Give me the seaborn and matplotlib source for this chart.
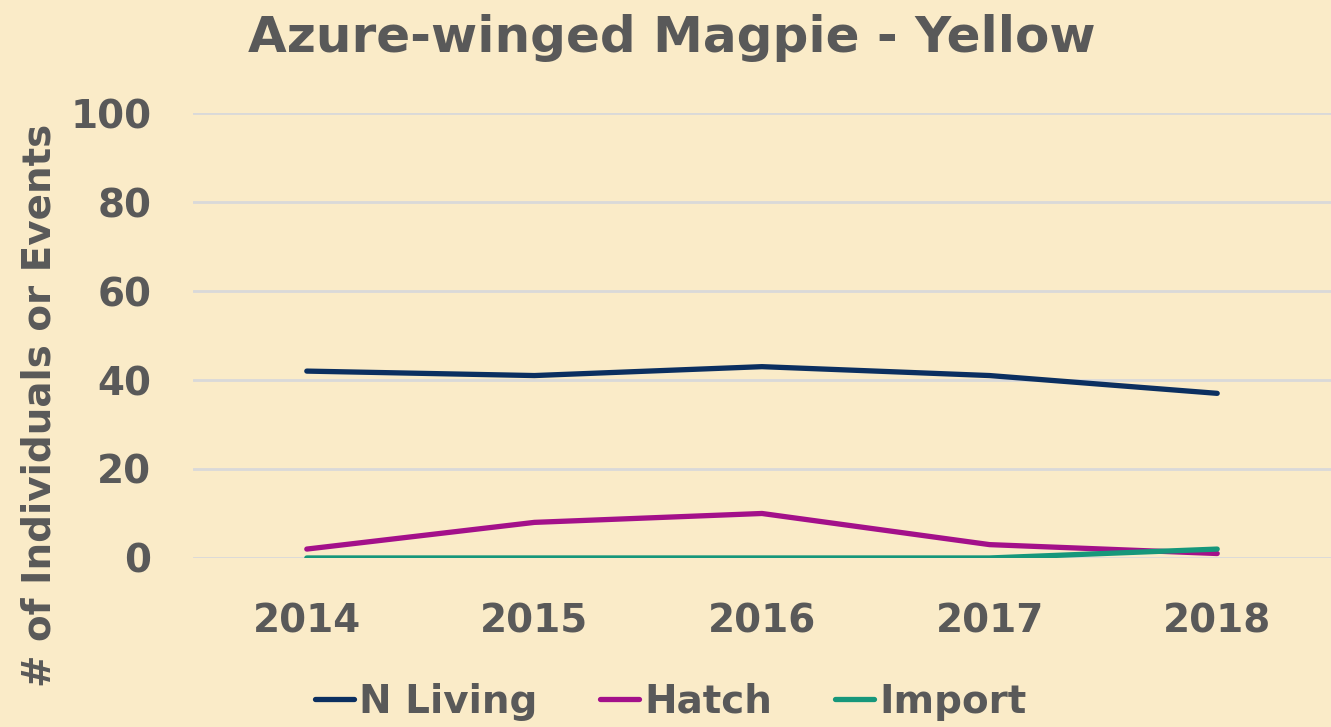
import pandas as pd
import seaborn as sns
import matplotlib.pyplot as plt

years = ['2014', '2015', '2016', '2017', '2018']
n_living = [42, 41, 43, 41, 37]
hatch = [2, 8, 10, 3, 1]
imports = [0, 0, 0, 0, 2]

series_names = ['N Living', 'Hatch', 'Import']
series_colors = ['#0B2F60', '#A3108A', '#16977B']

df = pd.DataFrame({'Year': years * 3,
                   'Value': n_living + hatch + imports,
                   'Series': [s for s in series_names for _ in years]})

bg = '#FAEBC8'
grey = '#595959'

sns.set_theme(style='white')
plt.rcParams['font.family'] = ['DejaVu Sans']
plt.rcParams['font.weight'] = 'bold'

fig = plt.figure(figsize=(13.31, 7.27), dpi=100, facecolor=bg)
ax = fig.add_axes([0.145, 0.2325, 0.855, 0.612], facecolor=bg)

sns.lineplot(data=df, x='Year', y='Value', hue='Series', palette=series_colors,
             linewidth=3.8, ax=ax, sort=False, legend=True)

ax.set_ylim(0, 100)
ax.set_xlim(-0.5, 4.5)
ax.set_yticks([0, 20, 40, 60, 80, 100])
ax.yaxis.grid(True, color='#D9D9D9', linewidth=2)
ax.set_axisbelow(True)
for s in ax.spines.values():
    s.set_visible(False)
ax.tick_params(axis='both', length=0, labelsize=28, labelcolor=grey)
ax.tick_params(axis='x', pad=32)
ax.tick_params(axis='y', pad=30)
for lab in ax.get_xticklabels() + ax.get_yticklabels():
    lab.set_fontweight('bold')

ax.set_xlabel('')
ax.set_ylabel('')
fig.text(0.03, 0.443, '# of Individuals or Events', rotation=90, ha='center', va='center',
         fontsize=28, fontweight='bold', color=grey)
fig.text(0.505, 0.948, 'Azure-winged Magpie - Yellow', ha='center', va='center',
         fontsize=36, fontweight='bold', color=grey)

ax.legend(loc='center', bbox_to_anchor=(0.504, 0.035), bbox_transform=fig.transFigure,
          ncol=3, frameon=False, handlelength=1.0, handletextpad=0.15,
          columnspacing=1.6, labelcolor=grey, prop={'weight': 'bold', 'size': 28})

fig.savefig('out.png', dpi=100, facecolor=bg)
